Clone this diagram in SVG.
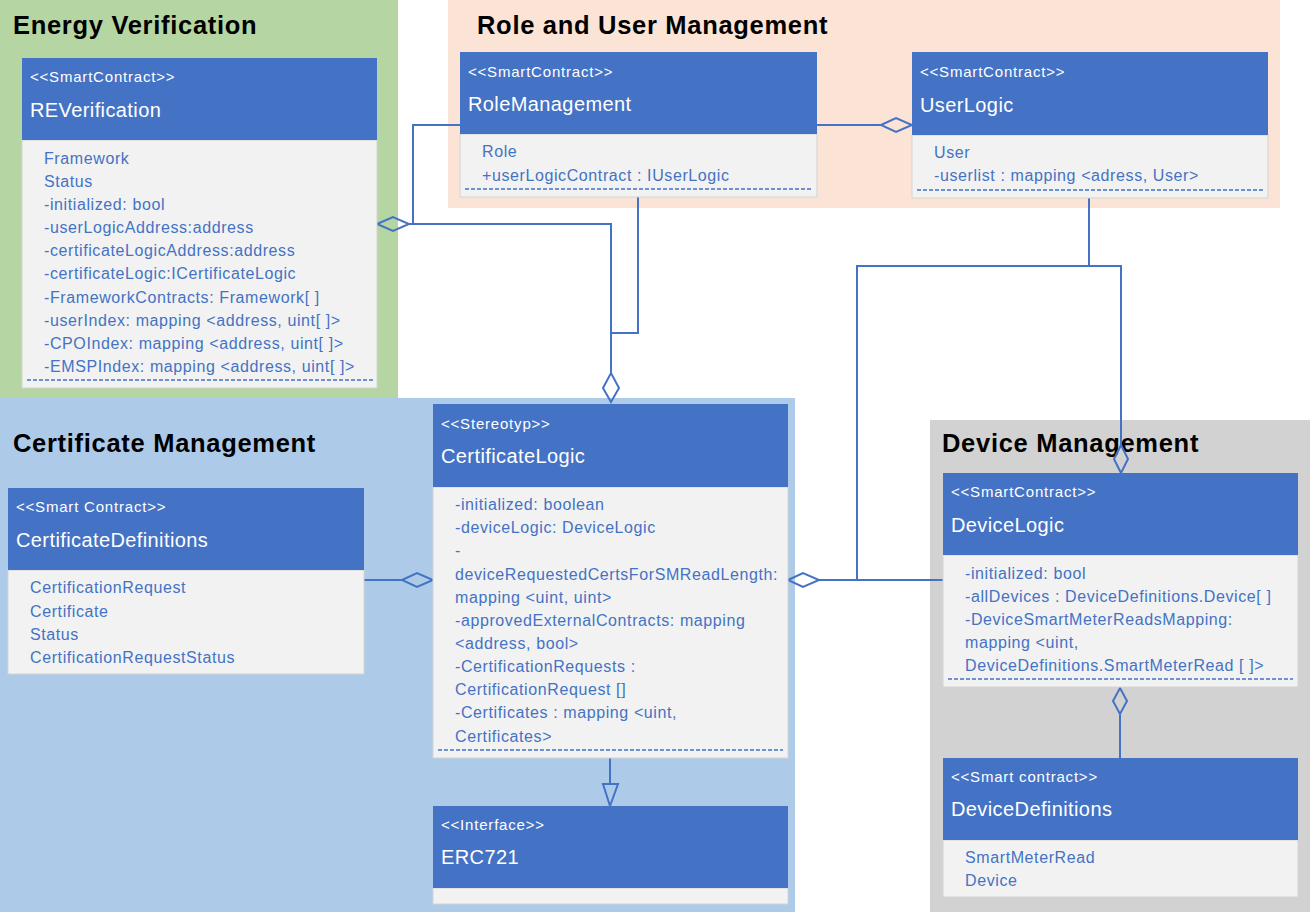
<svg xmlns="http://www.w3.org/2000/svg" width="1310" height="912" viewBox="0 0 1310 912">
<style>
.hdr{fill:#4472c4}
.body{fill:#f2f2f2;stroke:#d4d4d4;stroke-width:1}
.st{font-family:"Liberation Sans",Arial,sans-serif;font-size:15px;letter-spacing:0.8px;fill:#ffffff}
.nm{font-family:"Liberation Sans",Arial,sans-serif;font-size:20px;letter-spacing:0.4px;fill:#ffffff}
.at{font-family:"Liberation Sans",Arial,sans-serif;font-size:16px;letter-spacing:0.6px;fill:#4472c4}
.ttl{font-family:"Liberation Sans",Arial,sans-serif;font-size:25.5px;letter-spacing:0.7px;font-weight:bold;fill:#000000}
.dash{stroke:#4472c4;stroke-width:1.5;stroke-dasharray:4 2;fill:none}
.ln{stroke:#4472c4;stroke-width:2;fill:none}
.dia{stroke:#4472c4;stroke-width:2;fill:none}
</style>
<rect width="1310" height="912" fill="#ffffff"/>
<g id="regions">
<rect x="0" y="0" width="398" height="398" fill="#b5d6a2"/>
<rect x="448" y="0" width="832" height="208" fill="#fbe4d5"/>
<rect x="0" y="398" width="795" height="514" fill="#adcbe9"/>
<rect x="930" y="420" width="380" height="492" fill="#d2d2d2"/>
<text class="ttl" x="13" y="34">Energy Verification</text>
<text class="ttl" x="477" y="34">Role and User Management</text>
<text class="ttl" x="13" y="452">Certificate Management</text>
<text class="ttl" x="942" y="452">Device Management</text>
</g>
<g id="connectors">
<polyline class="ln" points="460,125 413,125 413,224"/>
<polygon class="dia" points="377,224 393,217 409,224 393,231"/>
<polyline class="ln" points="409,224 611,224 611,373"/>
<polyline class="ln" points="638,197 638,333 611,333"/>
<polygon class="dia" points="611,402 603,388 611,373 619,388"/>
<polyline class="ln" points="817,125 881,125"/>
<polygon class="dia" points="881,125 896,118 912,125 896,132"/>
<polyline class="ln" points="1089,198 1089,266"/>
<polyline class="ln" points="857,580 857,266 1121,266 1121,445"/>
<polygon class="dia" points="1121,473 1114,459 1121,445 1128,459"/>
<polyline class="ln" points="943,580 819,580"/>
<polygon class="dia" points="788,580 803,573 819,580 803,587"/>
<polyline class="ln" points="364,580 402,580"/>
<polygon class="dia" points="402,580 417,573 433,580 417,587"/>
<polyline class="ln" points="610,758 610,784"/>
<polygon class="dia" points="603,784 618,784 610,806"/>
<polygon class="dia" points="1120,688 1127,701 1120,714 1113,701"/>
<polyline class="ln" points="1120,714 1120,758"/>
</g>
<g id="REVerification">
<rect class="body" x="22" y="140" width="355" height="248"/>
<rect class="hdr" x="22" y="58" width="355" height="82"/>
<text class="st" x="30" y="82">&lt;&lt;SmartContract&gt;&gt;</text>
<text class="nm" x="30" y="117">REVerification</text>
<text class="at" x="44" y="164">Framework</text>
<text class="at" x="44" y="187">Status</text>
<text class="at" x="44" y="210">-initialized: bool</text>
<text class="at" x="44" y="233">-userLogicAddress:address</text>
<text class="at" x="44" y="256">-certificateLogicAddress:address</text>
<text class="at" x="44" y="279">-certificateLogic:ICertificateLogic</text>
<text class="at" x="44" y="303">-FrameworkContracts: Framework[ ]</text>
<text class="at" x="44" y="326">-userIndex: mapping &lt;address, uint[ ]&gt;</text>
<text class="at" x="44" y="349">-CPOIndex: mapping &lt;address, uint[ ]&gt;</text>
<text class="at" x="44" y="372">-EMSPIndex: mapping &lt;address, uint[ ]&gt;</text>
<line class="dash" x1="27" y1="380" x2="373" y2="380"/>
</g>
<g id="RoleManagement">
<rect class="body" x="460" y="134" width="357" height="63"/>
<rect class="hdr" x="460" y="52" width="357" height="82"/>
<text class="st" x="468" y="77">&lt;&lt;SmartContract&gt;&gt;</text>
<text class="nm" x="468" y="111">RoleManagement</text>
<text class="at" x="482" y="157">Role</text>
<text class="at" x="482" y="181">+userLogicContract : IUserLogic</text>
<line class="dash" x1="465" y1="189" x2="812" y2="189"/>
</g>
<g id="UserLogic">
<rect class="body" x="912" y="135" width="356" height="63"/>
<rect class="hdr" x="912" y="52" width="356" height="83"/>
<text class="st" x="920" y="77">&lt;&lt;SmartContract&gt;&gt;</text>
<text class="nm" x="920" y="112">UserLogic</text>
<text class="at" x="934" y="158">User</text>
<text class="at" x="934" y="181">-userlist : mapping &lt;adress, User&gt;</text>
<line class="dash" x1="917" y1="190" x2="1263" y2="190"/>
</g>
<g id="CertificateDefinitions">
<rect class="body" x="8" y="570" width="356" height="104"/>
<rect class="hdr" x="8" y="488" width="356" height="82"/>
<text class="st" x="16" y="512">&lt;&lt;Smart Contract&gt;&gt;</text>
<text class="nm" x="16" y="547">CertificateDefinitions</text>
<text class="at" x="30" y="593">CertificationRequest</text>
<text class="at" x="30" y="617">Certificate</text>
<text class="at" x="30" y="640">Status</text>
<text class="at" x="30" y="663">CertificationRequestStatus</text>
</g>
<g id="CertificateLogic">
<rect class="body" x="433" y="487" width="355" height="271"/>
<rect class="hdr" x="433" y="404" width="355" height="83"/>
<text class="st" x="441" y="429">&lt;&lt;Stereotyp&gt;&gt;</text>
<text class="nm" x="441" y="463">CertificateLogic</text>
<text class="at" x="455" y="510">-initialized: boolean</text>
<text class="at" x="455" y="533">-deviceLogic: DeviceLogic</text>
<text class="at" x="455" y="556">-</text>
<text class="at" x="455" y="580">deviceRequestedCertsForSMReadLength:</text>
<text class="at" x="455" y="603">mapping &lt;uint, uint&gt;</text>
<text class="at" x="455" y="626">-approvedExternalContracts: mapping</text>
<text class="at" x="455" y="649">&lt;address, bool&gt;</text>
<text class="at" x="455" y="672">-CertificationRequests :</text>
<text class="at" x="455" y="695">CertificationRequest []</text>
<text class="at" x="455" y="718">-Certificates : mapping &lt;uint,</text>
<text class="at" x="455" y="742">Certificates&gt;</text>
<line class="dash" x1="438" y1="750" x2="783" y2="750"/>
</g>
<g id="ERC721">
<rect class="body" x="433" y="888" width="355" height="16"/>
<rect class="hdr" x="433" y="806" width="355" height="82"/>
<text class="st" x="441" y="830">&lt;&lt;Interface&gt;&gt;</text>
<text class="nm" x="441" y="864">ERC721</text>
</g>
<g id="DeviceLogic">
<rect class="body" x="943" y="555" width="355" height="132"/>
<rect class="hdr" x="943" y="473" width="355" height="82"/>
<text class="st" x="951" y="497">&lt;&lt;SmartContract&gt;&gt;</text>
<text class="nm" x="951" y="532">DeviceLogic</text>
<text class="at" x="965" y="579">-initialized: bool</text>
<text class="at" x="965" y="602">-allDevices : DeviceDefinitions.Device[ ]</text>
<text class="at" x="965" y="625">-DeviceSmartMeterReadsMapping:</text>
<text class="at" x="965" y="648">mapping &lt;uint,</text>
<text class="at" x="965" y="671">DeviceDefinitions.SmartMeterRead [ ]&gt;</text>
<line class="dash" x1="948" y1="679" x2="1293" y2="679"/>
</g>
<g id="DeviceDefinitions">
<rect class="body" x="943" y="840" width="355" height="57"/>
<rect class="hdr" x="943" y="758" width="355" height="82"/>
<text class="st" x="951" y="782">&lt;&lt;Smart contract&gt;&gt;</text>
<text class="nm" x="951" y="816">DeviceDefinitions</text>
<text class="at" x="965" y="863">SmartMeterRead</text>
<text class="at" x="965" y="886">Device</text>
</g>
</svg>
